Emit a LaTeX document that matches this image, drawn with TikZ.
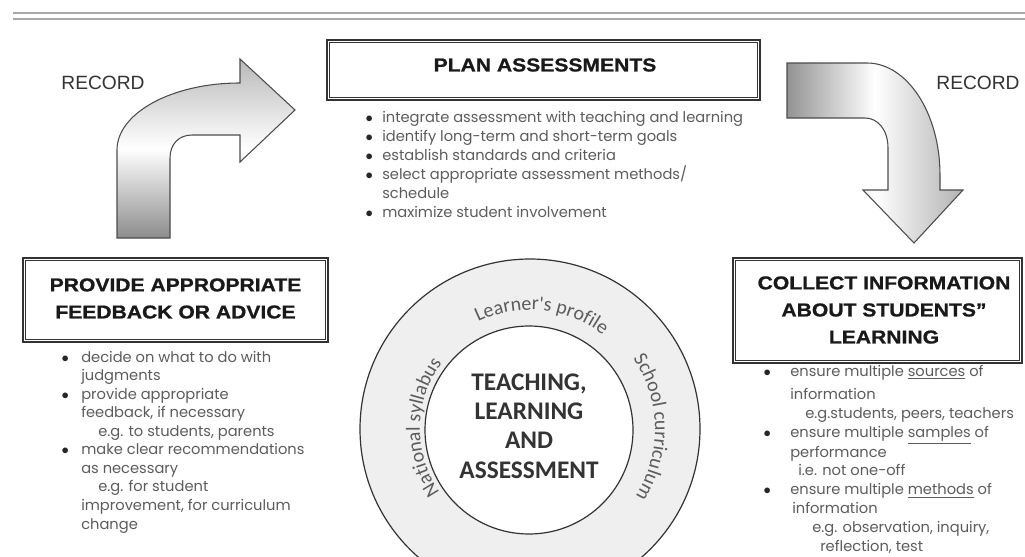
\documentclass[tikz,border=0pt]{standalone}
\usepackage{fontspec}
\setmainfont{Liberation Sans}
\newfontfamily\headf[FakeStretch=1.13, BoldFeatures={FakeBold=0.9}]{Liberation Sans}
\newfontfamily\recf{Liberation Sans}
\newfontfamily\bodyf{Poppins}
\newfontfamily\ringf{Carlito}
\usetikzlibrary{decorations.text,fit}
\definecolor{linegray}{HTML}{333333}
\definecolor{ringfill}{HTML}{EFEFEF}
\definecolor{txtgray}{HTML}{5C5C5C}
\newcommand\mybul[1]{\makebox[#1][l]{\hspace{1pt}\color{black!85}$\bullet$}}
\begin{document}
\begin{tikzpicture}[x=0.75pt,y=0.75pt,
  headbox/.style={draw=linegray, line width=1.9pt, inner sep=0pt},
  innerline/.style={draw=linegray, line width=0.6pt},
  headtext/.style={font=\headf\bfseries\fontsize{14}{20.3}\selectfont, align=center, text=black!90, inner sep=0pt},
  recordtext/.style={font=\recf\fontsize{14.4}{16}\selectfont, text=black!80, inner sep=0pt},
  bodytext/.style={font=\bodyf\fontsize{11}{14.1}\selectfont, text=txtgray, inner sep=0pt, anchor=north west},
  topline/.style={draw=gray!70, line width=1.1pt},
  arrowL/.style={draw=black!70, line width=0.8pt, top color=gray!55, bottom color=gray!90, middle color=white},
  arrowR/.style={draw=black!70, line width=0.8pt, left color=gray!85, right color=gray!60, middle color=white},
  ringcircle/.style={draw=linegray, line width=0.9pt, circle, inner sep=0pt},
  coretext/.style={font=\ringf\bfseries\fontsize{19}{22}\selectfont, text=black!80, align=center},
  ringlabel/.style={decorate, decoration={text along path, text align=center, text color=txtgray}}
]
\useasboundingbox (0,0) rectangle (1025,-557);
\fill[white] (0,0) rectangle (1025,-557);

% top double rule
\draw[topline] (13,-13) -- (1025,-13);
\draw[topline] (13,-19) -- (1025,-19);

% ring and core
\node[ringcircle, fill=ringfill, minimum size=255pt] (outer) at (530,-429) {};
\node[ringcircle, fill=white, minimum size=156pt] (core) at (529,-430) {};
\node[coretext] (coretxt) at (529,-426) {TEACHING,\\LEARNING\\AND\\ASSESSMENT};

\path[ringlabel, decoration={text={|\ringf\fontsize{15}{15}\selectfont|Learner's profile}}]
  (530,-429) ++(150:119) arc[start angle=150, end angle=18, radius=119];
\path[ringlabel, decoration={text={|\ringf\fontsize{15}{15}\selectfont|National syllabus}}]
  (530,-429) ++(239:110) arc[start angle=239, end angle=119, radius=110];
\path[ringlabel, decoration={text={|\ringf\fontsize{15}{15}\selectfont|School curriculum}}]
  (530,-429) ++(61:125) arc[start angle=61, end angle=-59, radius=125];

% arrows
\draw[arrowL] (117,-238) -- (117,-150) .. controls (117,-113) and (172,-83) .. (240,-83)
  -- (240,-59) -- (295,-110) -- (240,-162) -- (240,-135) -- (192,-135)
  .. controls (179,-135) and (170,-144) .. (170,-158) -- (170,-238) -- cycle;
\draw[arrowR] (787,-63) -- (867,-63) .. controls (907,-63) and (940,-113) .. (940,-175)
  -- (940,-190) -- (963,-190) -- (914,-243) -- (863,-190) -- (888,-190) -- (888,-148)
  .. controls (888,-130) and (878,-118) .. (865,-118) -- (787,-118) -- cycle;

\node[recordtext] (recL) at (103,-83) {RECORD};
\node[recordtext] (recR) at (978,-83) {RECORD};

% boxes
\node[headbox, fit={(327,-40) (760,-100)}] (plan) {};
\draw[innerline] ([shift={(4,-4)}]plan.north west) rectangle ([shift={(-4,4)}]plan.south east);
\node[headtext] (plantitle) at (545,-65) {PLAN ASSESSMENTS};

\node[headbox, fit={(23,-258) (328,-342)}] (provide) {};
\draw[innerline] ([shift={(4,-4)}]provide.north west) rectangle ([shift={(-4,4)}]provide.south east);
\node[headtext] (providetitle) at (175.5,-298.5) {PROVIDE APPROPRIATE\\FEEDBACK OR ADVICE};

\node[headbox, fit={(733,-258) (1022,-363)}] (collect) {};
\draw[innerline] ([shift={(4,-4)}]collect.north west) rectangle ([shift={(-4,4)}]collect.south east);
\node[headtext] (collecttitle) at (884,-310) {COLLECT INFORMATION\\ABOUT STUDENTS”\\LEARNING};

% lists
\node[bodytext] (planlist) at (364,-109) {\begin{tabular}{@{}l@{}l@{}}
\mybul{13.5pt} & integrate assessment with teaching and learning\\
\mybul{13.5pt} & identify long-term and short-term goals\\
\mybul{13.5pt} & establish standards and criteria\\
\mybul{13.5pt} & select appropriate assessment methods/\\
 & schedule\\
\mybul{13.5pt} & maximize student involvement
\end{tabular}};

\node[bodytext, font=\bodyf\fontsize{11}{13.9}\selectfont] (providelist) at (60,-349) {\begin{tabular}{@{}l@{}l@{}}
\mybul{15.75pt} & decide on what to do with\\
 & judgments\\
\mybul{15.75pt} & provide appropriate\\
 & feedback, if necessary\\
 & \hspace{12.75pt}e.g. to students, parents\\
\mybul{15.75pt} & make clear recommendations\\
 & as necessary\\
 & \hspace{12.75pt}e.g. for student\\
 & improvement, for curriculum\\
 & change
\end{tabular}};

\node[bodytext, font=\bodyf\fontsize{11}{14.2}\selectfont] (collectlist) at (762,-363) {\begin{tabular}{@{}l@{}l@{}}
\mybul{21pt} & ensure multiple \underline{sources} of\\[3pt]
 & information\\
 & \hspace{11.25pt}e.g.students, peers, teachers\\
\mybul{21pt} & ensure multiple \underline{samples} of\\
 & performance\\
 & \hspace{6pt}i.e. not one-off\\
\mybul{21pt} & ensure multiple \underline{methods} of\\
 & \hspace{1.5pt}information\\
 & \hspace{16.5pt}e.g. observation, inquiry,\\
 & \hspace{22.5pt}reflection, test
\end{tabular}};
\end{tikzpicture}
\end{document}
